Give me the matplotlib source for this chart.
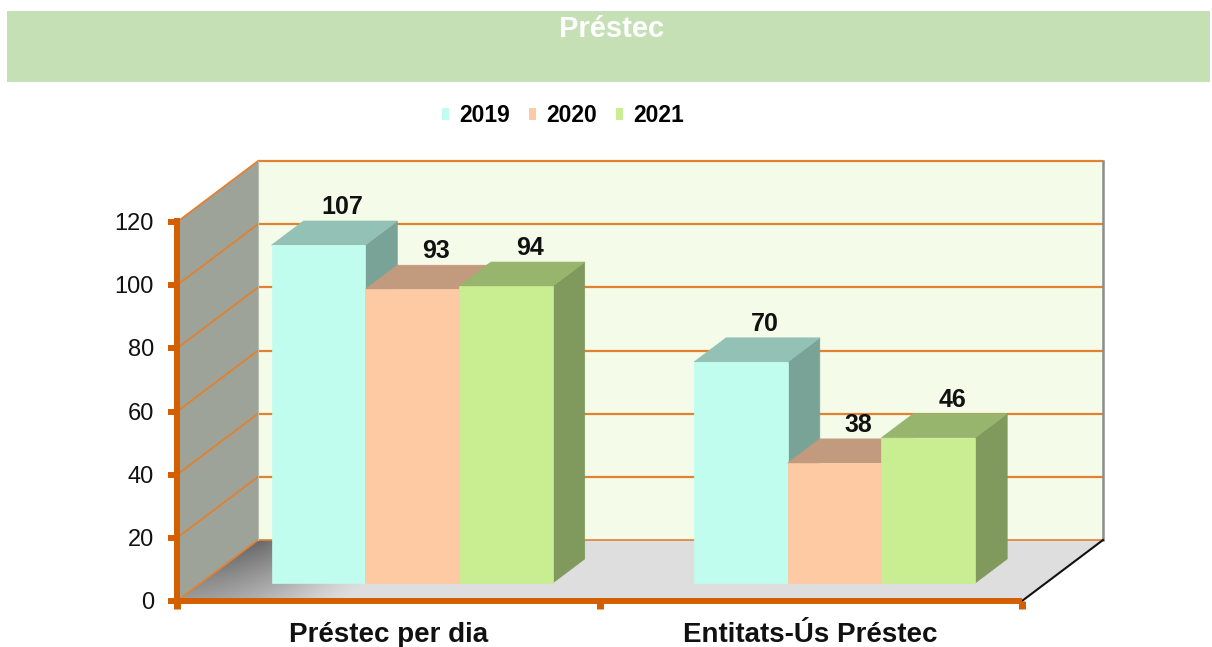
import numpy as np
import matplotlib
matplotlib.use('Agg')
import matplotlib.pyplot as plt
from matplotlib.patches import Polygon, Rectangle, Patch

# ---------------- data ----------------
title = 'Préstec'
categories = ['Préstec per dia', 'Entitats-Ús Préstec']
years = ['2019', '2020', '2021']
values_2019 = [107, 70]
values_2020 = [93, 38]
values_2021 = [94, 46]
yticks = [0, 20, 40, 60, 80, 100, 120]

series = [values_2019, values_2020, values_2021]
front_colors = ['#c1fdee', '#fecaa3', '#c8ee91']
top_colors = ['#93c1b5', '#c29a7d', '#98b56d']
side_colors = ['#7aa397', '#a5836a', '#80995d']
axis_color = '#d45f00'
grid_color = '#e2812f'

W, H = 1212, 647
fig = plt.figure(figsize=(W / 100, H / 100), dpi=100)
ax = fig.add_axes([0, 0, 1, 1])

# front-plane scale: category units on x, value units on y
X0, PX_PER_CAT = 177, 422.5
Y0, PX_PER_VAL = 601, 3.158
ax.set_xlim(-X0 / PX_PER_CAT, (W - X0) / PX_PER_CAT)
ax.set_ylim((Y0 - H) / PX_PER_VAL, Y0 / PX_PER_VAL)
ax.axis('off')


def px(d):
    return d / PX_PER_CAT


def pv(d):
    return d / PX_PER_VAL


ncat = len(categories)
nb = len(series)
ymax = yticks[-1]
Dx, Dy = px(81), pv(61)  # full depth offset

# ---------------- walls & floor ----------------
ax.add_patch(Rectangle((Dx, Dy), ncat, ymax, fc='#f4fce9', ec='none', zorder=1))
ax.add_patch(Polygon([(0, 0), (Dx, Dy), (Dx, ymax + Dy), (0, ymax)],
                     closed=True, fc='#9da398', ec='none', zorder=1))
floor = Polygon([(0, 0), (ncat, 0), (ncat + Dx, Dy), (Dx, Dy)],
                closed=True, fc='#dedede', ec='none', zorder=1)
ax.add_patch(floor)

# floor shading near the left wall (darker toward the back corner)
gx = np.linspace(0, ncat + Dx, 700)
gy = np.linspace(0, Dy, 90)
GX, GY = np.meshgrid(gx, gy)
PXX = GX * PX_PER_CAT
PYY = -GY * PX_PER_VAL
dist = PXX * 0.602 + PYY * 0.799
along = np.clip((PXX * 0.799 - PYY * 0.602) / 101.0, 0, 1)
t = np.clip(dist / 100.0, 0, 1)
shade = (1 - t) ** 1.3 * (0.55 + 0.45 * along)
dark = np.array([0.40, 0.40, 0.40])
light = np.array([0.871, 0.871, 0.871])
img = light[None, None, :] * (1 - shade[..., None]) + dark[None, None, :] * shade[..., None]
im = ax.imshow(img, extent=(0, ncat + Dx, 0, Dy), origin='lower',
               aspect='auto', interpolation='bilinear', zorder=1.5)
im.set_clip_path(floor)

# gridlines on back wall and left wall
for v in yticks:
    lw = 1.6 if v > 0 else 1.2
    ax.plot([Dx, ncat + Dx], [v + Dy, v + Dy], color=grid_color, lw=lw, zorder=2,
            solid_capstyle='butt')
    ax.plot([0, Dx], [v, v + Dy], color=grid_color, lw=1.3, zorder=2)
ax.plot([ncat + Dx, ncat + Dx], [Dy, ymax + Dy], color='#8c8c8c', lw=1.8, zorder=2)
ax.plot([Dx, Dx], [Dy, ymax + Dy], color='#b8bdb0', lw=0.8, zorder=2)

# ---------------- bars ----------------
bw = px(93.7)
f0, f1 = 0.295, 0.69
ddx, ddy = (f1 - f0) * Dx, (f1 - f0) * Dy
z = 3
for i in range(ncat):
    for j in range(nb):
        v = series[j][i]
        xl = i + 0.5 + (j - nb / 2) * bw + f0 * Dx
        yb = f0 * Dy
        top = yb + v
        side = Polygon([(xl + bw, yb), (xl + bw + ddx, yb + ddy),
                        (xl + bw + ddx, top + ddy), (xl + bw, top)],
                       closed=True, fc=side_colors[j], ec=side_colors[j], lw=0.5, zorder=z)
        topf = Polygon([(xl, top), (xl + bw, top), (xl + bw + ddx, top + ddy),
                        (xl + ddx, top + ddy)],
                       closed=True, fc=top_colors[j], ec=top_colors[j], lw=0.5, zorder=z + 0.1)
        front = Rectangle((xl, yb), bw, v, fc=front_colors[j], ec=front_colors[j],
                          lw=0.5, zorder=z + 0.2)
        ax.add_patch(side)
        ax.add_patch(topf)
        ax.add_patch(front)
        ax.text(xl + bw / 2 + px(24), top + ddy + pv(7), str(v), ha='center',
                va='baseline', fontsize=18, fontweight='bold', color='#111111',
                family='Liberation Sans', zorder=20)
        z += 1

# ---------------- axes ----------------
ax.plot([0, 0], [pv(-8), ymax + pv(4)], color=axis_color, lw=4.3, zorder=15,
        solid_capstyle='butt')
ax.plot([0, ncat], [0, 0], color=axis_color, lw=4.3, zorder=15, solid_capstyle='butt')
ax.plot([ncat, ncat + Dx], [0, Dy], color='#111111', lw=1.5, zorder=14)
for v in yticks:
    ax.plot([px(-9), 0], [v, v], color=axis_color, lw=4.3, zorder=15,
            solid_capstyle='butt')
    ax.text(px(-23), v - pv(8), str(v), ha='right', va='baseline', fontsize=17,
            color='#111111', family='Liberation Sans', zorder=20)
for k in range(ncat + 1):
    ax.plot([k, k], [0, pv(-8)], color=axis_color, lw=5, zorder=15,
            solid_capstyle='butt')
for i, cat in enumerate(categories):
    ax.text(i + 0.5, pv(-41), cat, ha='center', va='baseline', fontsize=20,
            fontweight='bold', color='#111111', family='Liberation Sans', zorder=20)

# ---------------- title band ----------------
fig.patches.append(Rectangle((7 / W, 1 - 82 / H), (1210 - 7) / W, 71 / H,
                             transform=fig.transFigure, fc='#c5e0b4', ec='none',
                             zorder=0))
fig.text(612 / W, 1 - 37 / H, title, ha='center', va='baseline', fontsize=21,
         fontweight='bold', color='white', family='Liberation Sans')

# ---------------- legend ----------------
handles = [Patch(fc=front_colors[j], ec='none') for j in range(nb)]
leg = fig.legend(handles, years, loc='center', bbox_to_anchor=(563 / W, 1 - 116 / H),
                 ncol=nb, frameon=False, handlelength=0.32, handleheight=0.45,
                 handletextpad=0.45, columnspacing=0.8,
                 prop={'family': 'Liberation Sans', 'weight': 'bold', 'size': 16.5})

fig.savefig('out.png', dpi=100)
